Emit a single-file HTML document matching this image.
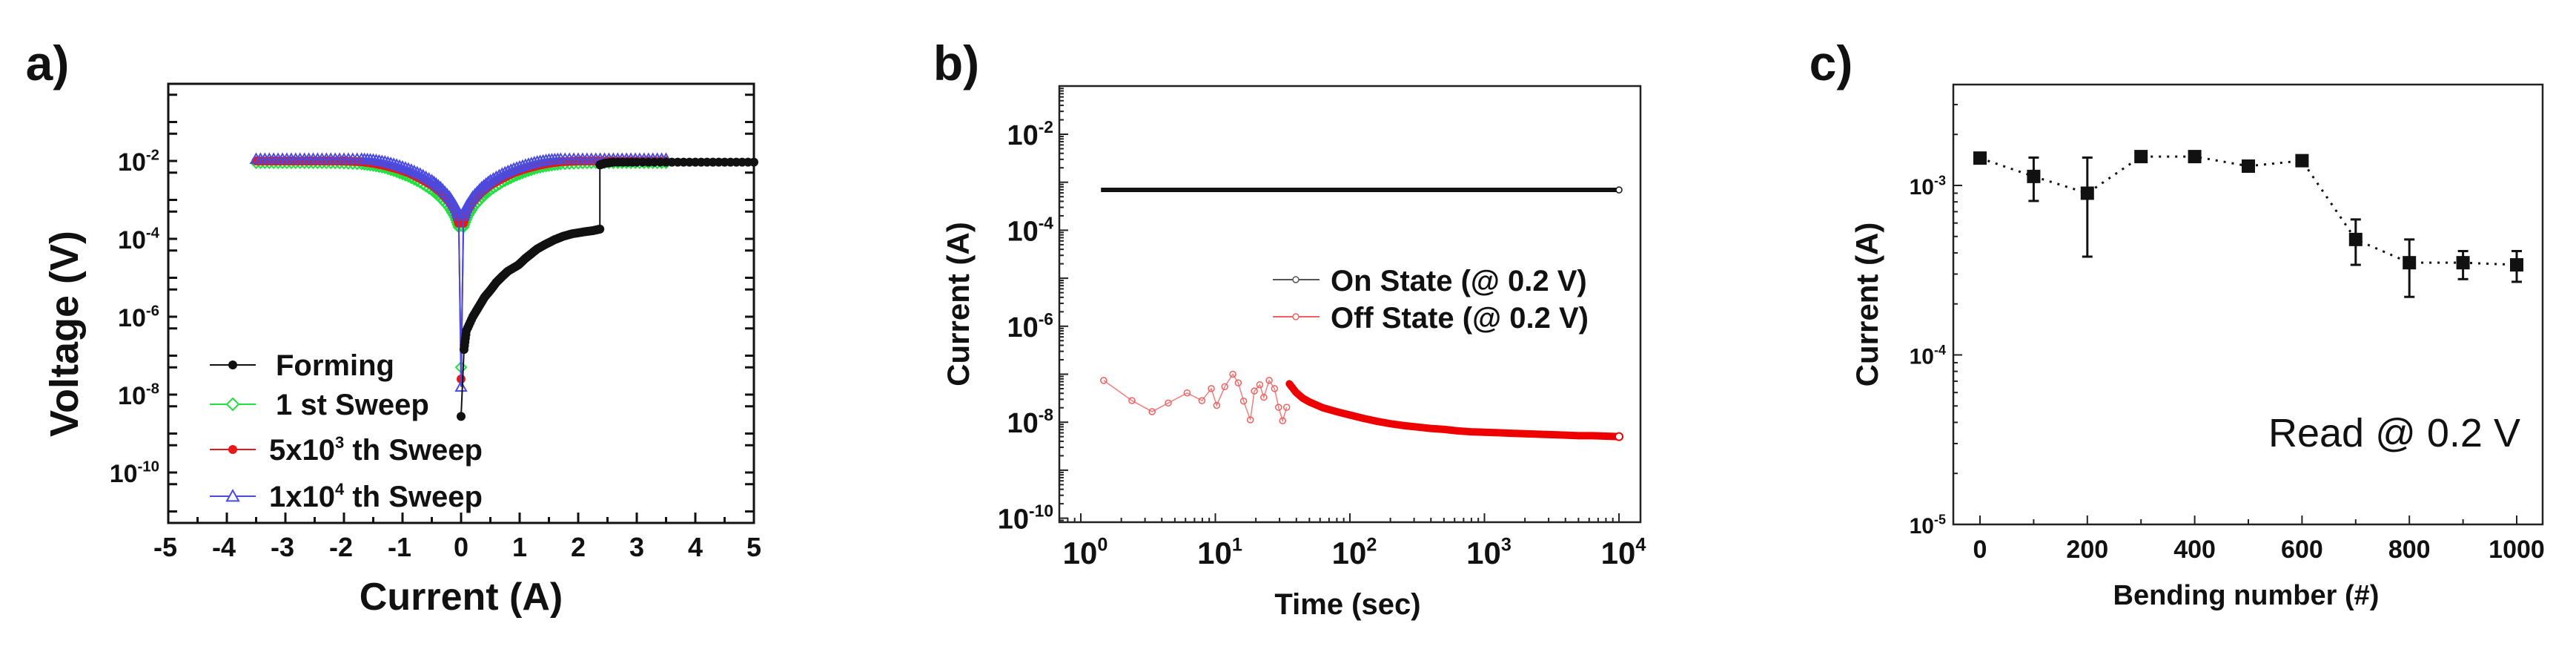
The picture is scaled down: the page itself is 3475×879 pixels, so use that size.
<!DOCTYPE html>
<html><head><meta charset="utf-8"><style>
html,body{margin:0;padding:0;background:#fff;}
svg{display:block;font-family:"Liberation Sans",Arial,sans-serif;}
</style></head><body>
<svg id="fig" width="3475" height="879" viewBox="0 0 3475 879" xmlns="http://www.w3.org/2000/svg">
<g id="pa"></g>
<g id="pb"></g>
<g id="pc"></g>
</svg>
<script>
// ---------- Panel A data ----------
const aXTicks = [-5,-4,-3,-2,-1,0,1,2,3,4,5];
const aYTickExps = [-2,-4,-6,-8,-10];
const formingX = [0,0.05,0.09,0.2,0.3,0.4,0.51,0.6,0.7,0.8,0.98,1.1,1.2,1.3,1.44,1.6,1.75,1.9,2.1,2.25,2.37,2.37,2.45,2.6,3,3.5,4,4.5,5];
const formingLog = [-8.56,-6.84,-6.36,-6.0,-5.75,-5.5,-5.3,-5.12,-4.97,-4.83,-4.67,-4.5,-4.38,-4.26,-4.14,-4.02,-3.93,-3.87,-3.82,-3.79,-3.75,-2.1,-2.06,-2.03,-2.03,-2.03,-2.03,-2.03,-2.03];
const sweepX = [-3.5,-3.2,-2.9,-2.6,-2.3,-2.0,-1.7,-1.5,-1.3,-1.1,-0.9,-0.7,-0.5,-0.35,-0.2,-0.1,-0.04,0,0.04,0.1,0.2,0.35,0.5,0.7,0.9,1.1,1.3,1.5,1.7,2.0,2.3,2.6,2.9,3.2,3.5];
const sweep1Log = [-2.05,-2.05,-2.05,-2.05,-2.05,-2.06,-2.08,-2.12,-2.18,-2.28,-2.4,-2.55,-2.75,-2.95,-3.2,-3.45,-3.7,-7.3,-3.7,-3.45,-3.2,-2.95,-2.75,-2.55,-2.4,-2.28,-2.18,-2.12,-2.08,-2.06,-2.05,-2.05,-2.05,-2.05,-2.05];
const sweep5kLog = [-2.0,-2.0,-2.0,-2.0,-2.0,-2.0,-2.02,-2.06,-2.12,-2.2,-2.3,-2.45,-2.62,-2.8,-3.05,-3.3,-3.6,-7.6,-3.6,-3.3,-3.05,-2.8,-2.62,-2.45,-2.3,-2.2,-2.12,-2.06,-2.02,-2.0,-2.0,-2.0,-2.0,-2.0,-2.0];
const sweep10kLog = [-1.95,-1.95,-1.95,-1.95,-1.95,-1.95,-1.95,-1.97,-2.02,-2.1,-2.2,-2.33,-2.5,-2.68,-2.92,-3.15,-3.4,-7.8,-3.4,-3.15,-2.92,-2.68,-2.5,-2.33,-2.2,-2.1,-2.02,-1.97,-1.95,-1.95,-1.95,-1.95,-1.95,-1.95,-1.95];
// ---------- Panel B data ----------
const bXTickExps = [0,1,2,3,4];
const bYTickExps = [-2,-4,-6,-8,-10];
const onLogT = [0.15,0.3,0.5,0.7,0.9,1.1,1.3,1.5,1.7,1.9,2.1,2.3,2.5,2.7,2.9,3.1,3.3,3.5,3.7,3.9,4.0];
const onLog = [-3.16,-3.16,-3.16,-3.16,-3.16,-3.16,-3.16,-3.16,-3.16,-3.16,-3.16,-3.16,-3.16,-3.16,-3.16,-3.16,-3.16,-3.16,-3.16,-3.16,-3.16];
const offLogT = [0.17,0.38,0.53,0.65,0.79,0.9,0.97,1.01,1.07,1.13,1.17,1.21,1.26,1.29,1.33,1.36,1.4,1.44,1.47,1.5,1.53];
const offLog = [-7.13,-7.55,-7.78,-7.6,-7.39,-7.55,-7.3,-7.65,-7.26,-7.0,-7.18,-7.56,-7.95,-7.35,-7.22,-7.48,-7.13,-7.3,-7.69,-7.97,-7.69];
const offTailLogT = [1.55,1.6,1.65,1.7,1.8,1.9,2.0,2.1,2.2,2.3,2.4,2.5,2.6,2.7,2.8,2.9,3.0,3.1,3.2,3.3,3.4,3.5,3.6,3.7,3.8,3.9,4.0];
const offTailLog = [-7.2,-7.38,-7.5,-7.58,-7.7,-7.78,-7.85,-7.92,-7.98,-8.03,-8.07,-8.1,-8.13,-8.15,-8.18,-8.2,-8.21,-8.22,-8.23,-8.24,-8.25,-8.26,-8.27,-8.28,-8.28,-8.29,-8.3];
// ---------- Panel C data ----------
const cXTicks = [0,200,400,600,800,1000];
const cYTickExps = [-3,-4,-5];
const bendN = [0,100,200,300,400,500,600,700,800,900,1000];
const bendI = [1.45e-3,1.13e-3,0.9e-3,1.48e-3,1.48e-3,1.3e-3,1.4e-3,0.48e-3,0.35e-3,0.35e-3,0.34e-3];
const bendHi = [1.5e-3,1.46e-3,1.46e-3,1.52e-3,1.52e-3,1.34e-3,1.44e-3,0.63e-3,0.48e-3,0.41e-3,0.41e-3];
const bendLo = [1.4e-3,0.81e-3,0.38e-3,1.44e-3,1.44e-3,1.26e-3,1.36e-3,0.34e-3,0.22e-3,0.28e-3,0.27e-3];

const NS="http://www.w3.org/2000/svg";
function mk(parent,tag,attrs){const e=document.createElementNS(NS,tag);for(const k in attrs)e.setAttribute(k,attrs[k]);parent.appendChild(e);return e;}
function sup(parent,x,y,base,exp,size,anchor,weight){
  const t=mk(parent,'text',{x:x,y:y,'font-size':size,'font-weight':weight||'bold','text-anchor':anchor||'middle',fill:'#111'});
  const a=document.createElementNS(NS,'tspan');a.textContent=base;t.appendChild(a);
  const b=document.createElementNS(NS,'tspan');b.setAttribute('dy',-size*0.42);b.setAttribute('font-size',size*0.6);b.textContent=exp;t.appendChild(b);
  return t;
}
function txt(parent,x,y,s,size,anchor,weight,extra){
  const t=mk(parent,'text',Object.assign({x:x,y:y,'font-size':size,'font-weight':weight||'bold','text-anchor':anchor||'middle',fill:'#111'},extra||{}));
  t.textContent=s;return t;
}
function tri(cx,cy,r){return `${cx},${cy-r} ${cx-r},${cy+r*0.8} ${cx+r},${cy+r*0.8}`;}

// ===== Panel A =====
(function(){
const g=document.getElementById('pa');
const L=227,R=1017,T=113,B=705;
const xa=v=>L+(v+5)*(R-L)/10;
const ya=l=>217+(-2-l)*52.5;
const lbl=txt(g,64,108,'a)',66,'middle');


const box=mk(g,'rect',{x:L,y:T,width:R-L,height:B-T,fill:'none',stroke:'#111','stroke-width':3});


for(let e=0;e>=-11;e--){
  for(const off of [0,0.3]){const y=ya(e-off); if(y<T+2||y>B-2)continue;
    mk(g,'line',{x1:L,y1:y,x2:L+12,y2:y,stroke:'#111','stroke-width':3});
    mk(g,'line',{x1:R,y1:y,x2:R-12,y2:y,stroke:'#111','stroke-width':3});}
}
for(let v=-5;v<=5;v+=0.5){const x=xa(v);const len=Number.isInteger(v)?14:8;
  mk(g,'line',{x1:x,y1:B,x2:x,y2:B-len,stroke:'#111','stroke-width':3});}
aXTicks.forEach(v=>{const t=txt(g,xa(v)-(v<0?4:0),750,String(v),36,'middle');
  
  });
aYTickExps.forEach(e=>{const t=sup(g,L-12,ya(e)+13,'10',String(e),34,'end');
  
  });
const xt=txt(g,(L+R)/2,822,'Current (A)',52,'middle');


const yt=txt(g,0,0,'Voltage (V)',54,'middle','bold',{transform:`translate(105,450) rotate(-90)`});


function series(xs,ls,color,kind,name){
  const sg=mk(g,'g',{});
  
  
  mk(sg,'polyline',{points:xs.map((x,i)=>xa(x)+','+ya(ls[i])).join(' '),fill:'none',stroke:color,'stroke-width':2});
  for(let i=0;i<xs.length;i++){
    const cx=xa(xs[i]),cy=ya(ls[i]);
    if(kind==='dot')mk(sg,'circle',{cx:cx,cy:cy,r:6,fill:color});
    else if(kind==='tri')mk(sg,'polygon',{points:tri(cx,cy,7),fill:'none',stroke:color,'stroke-width':2});
    else if(kind==='dia')mk(sg,'polygon',{points:`${cx},${cy-7} ${cx+7},${cy} ${cx},${cy+7} ${cx-7},${cy}`,fill:'none',stroke:color,'stroke-width':2});
    if(i<xs.length-1 && kind!=='dot' && Math.abs(ls[i+1]-ls[i])<1){
      for(let f=0.25;f<1;f+=0.25){const px=cx+(xa(xs[i+1])-cx)*f,py=cy+(ya(ls[i+1])-cy)*f;
        if(kind==='tri')mk(sg,'polygon',{points:tri(px,py,7),fill:'none',stroke:color,'stroke-width':2});
        else mk(sg,'polygon',{points:`${px},${py-7} ${px+7},${py} ${px},${py+7} ${px-7},${py}`,fill:'none',stroke:color,'stroke-width':2});}
    }
    if(kind==='dot' && i<xs.length-1 && Math.abs(ls[i+1]-ls[i])<1){
      for(let f=0.2;f<1;f+=0.2){mk(sg,'circle',{cx:cx+(xa(xs[i+1])-cx)*f,cy:cy+(ya(ls[i+1])-cy)*f,r:6,fill:color});}
    }
  }
}
series(sweepX,sweep1Log,'#22e040','dia','series-1st-sweep');
series(sweepX,sweep5kLog,'#e81818','dot','series-5e3-sweep');
series(sweepX,sweep10kLog,'#4a4ae0','tri','series-1e4-sweep');
series(formingX,formingLog,'#111','dot','series-forming');
const lg=mk(g,'g',{});


const ent=[['Forming','#111','dot',null],['1 st Sweep','#22e040','dia',null],['5x10','#e81818','dot','3'],['1x10','#4a4ae0','tri','4']];
const ys=[492,545,606,669];
ent.forEach((e,i)=>{const y=ys[i];
  const eg=mk(lg,'g',{});
  
  
  mk(eg,'line',{x1:283,y1:y,x2:345,y2:y,stroke:e[1],'stroke-width':2});
  if(e[2]==='dot')mk(eg,'circle',{cx:314,cy:y,r:6,fill:e[1]});
  if(e[2]==='dia')mk(eg,'polygon',{points:`314,${y-8} 322,${y} 314,${y+8} 306,${y}`,fill:'#fff',stroke:e[1],'stroke-width':2});
  if(e[2]==='tri')mk(eg,'polygon',{points:tri(314,y,8),fill:'#fff',stroke:e[1],'stroke-width':2});
  const t=mk(eg,'text',{x:e[3]?363:372,y:y+14,'font-size':40,'font-weight':'bold',fill:'#111'});
  const a=document.createElementNS(NS,'tspan');a.textContent=e[0];t.appendChild(a);
  if(e[3]){const b=document.createElementNS(NS,'tspan');b.setAttribute('dy',-16);b.setAttribute('font-size',22);b.textContent=e[3];t.appendChild(b);
    const c=document.createElementNS(NS,'tspan');c.setAttribute('dy',16);c.textContent=' th Sweep';t.appendChild(c);}
});
})();

// ===== Panel B =====
(function(){
const g=document.getElementById('pb');
const L=1429,R=2213,T=116,B=704;
const xb=l=>1458+l*181.5;
const yb=l=>181+(-2-l)*64.7;
const lbl=txt(g,1290,108,'b)',66,'middle');


const box=mk(g,'rect',{x:L,y:T,width:R-L,height:B-T,fill:'none',stroke:'#222','stroke-width':2.5});


for(let e=-1;e>=-11;e--){for(let m=1;m<10;m++){const yy=yb(e+Math.log10(m)); if(yy<T+2||yy>B-2)continue;
  mk(g,'line',{x1:L,y1:yy,x2:L+(m===1?12:6),y2:yy,stroke:'#222','stroke-width':2});}}
for(let e=-1;e<=4;e++){for(let m=1;m<10;m++){const x=xb(e+Math.log10(m)); if(x<L+2||x>R-2)continue;
  mk(g,'line',{x1:x,y1:B,x2:x,y2:B-(m===1?12:6),stroke:'#222','stroke-width':2});}}
bXTickExps.forEach(e=>{const t=sup(g,xb(e)+6,760,'10',String(e),42,'middle');
  
  });
bYTickExps.forEach(e=>{const t=sup(g,L-8,yb(e)+14,'10',String(e),38,'end');
  
  });
const xt=txt(g,1818,828,'Time (sec)',40,'middle');


const yt=txt(g,0,0,'Current (A)',42,'middle','bold',{transform:`translate(1307,${(T+B)/2}) rotate(-90)`});


const on=mk(g,'g',{});


mk(on,'polyline',{points:onLogT.map((t,i)=>xb(t)+','+yb(onLog[i])).join(' '),fill:'none',stroke:'#111','stroke-width':6});
mk(on,'circle',{cx:xb(onLogT[onLogT.length-1]),cy:yb(onLog[onLog.length-1]),r:4,fill:'#fff',stroke:'#111','stroke-width':1.5});
const off=mk(g,'g',{});


mk(off,'polyline',{points:offLogT.map((t,i)=>xb(t)+','+yb(offLog[i])).join(' '),fill:'none',stroke:'#f08080','stroke-width':1.5});
offLogT.forEach((t,i)=>mk(off,'circle',{cx:xb(t),cy:yb(offLog[i]),r:4,fill:'none',stroke:'#f06060','stroke-width':1.5}));
mk(off,'polyline',{points:offTailLogT.map((t,i)=>xb(t)+','+yb(offTailLog[i])).join(' '),fill:'none',stroke:'#ee0000','stroke-width':10,'stroke-linecap':'round'});
mk(off,'circle',{cx:xb(4),cy:yb(offTailLog[offTailLog.length-1]),r:5,fill:'#fff',stroke:'#e00','stroke-width':2});
const lg=mk(g,'g',{});


[['On State (@ 0.2 V)','#555',377],['Off State (@ 0.2 V)','#f06060',427]].forEach(e=>{
  const eg=mk(lg,'g',{});
  
  
  mk(eg,'line',{x1:1717,y1:e[2],x2:1780,y2:e[2],stroke:e[1],'stroke-width':2});
  mk(eg,'circle',{cx:1748,cy:e[2],r:4,fill:'#fff',stroke:e[1],'stroke-width':1.5});
  txt(eg,1795,e[2]+15,e[0],40,'start');
});
})();

// ===== Panel C =====
(function(){
const g=document.getElementById('pc');
const L=2635,R=3430,T=114,B=707;
const xc=n=>2671+n*0.724;
const yc=v=>250+(-3-Math.log10(v))*228.5;
const lbl=txt(g,2470,108,'c)',66,'middle');


const box=mk(g,'rect',{x:L,y:T,width:R-L,height:B-T,fill:'none',stroke:'#222','stroke-width':2.5});


for(let e=-5;e<=-3;e++){for(let m=1;m<10;m++){const y=yc(m*Math.pow(10,e)); if(y<T+2||y>B-1)continue;
  mk(g,'line',{x1:L,y1:y,x2:L+(m===1?12:6),y2:y,stroke:'#222','stroke-width':2});}}
for(let n=0;n<=1000;n+=100){mk(g,'line',{x1:xc(n),y1:B,x2:xc(n),y2:B-(n%200===0?12:7),stroke:'#222','stroke-width':2});}
cXTicks.forEach(n=>{const t=txt(g,xc(n),752,String(n),34,'middle');
  
  });
cYTickExps.forEach(e=>{const t=sup(g,L-10,yc(Math.pow(10,e))+12,'10',String(e),30,'end');
  
  });
const xt=txt(g,3030,815,'Bending number (#)',38,'middle');


const yt=txt(g,0,0,'Current (A)',42,'middle','bold',{transform:`translate(2533,${(T+B)/2}) rotate(-90)`});


const sg=mk(g,'g',{});


mk(sg,'polyline',{points:bendN.map((n,i)=>xc(n)+','+yc(bendI[i])).join(' '),fill:'none',stroke:'#111','stroke-width':3,'stroke-dasharray':'3 8'});
bendN.forEach((n,i)=>{
  const x=xc(n),y1=yc(bendHi[i]),y2=yc(bendLo[i]);
  const eb=mk(sg,'g',{});
  
  
  mk(eb,'line',{x1:x,y1:y1,x2:x,y2:y2,stroke:'#111','stroke-width':3});
  mk(eb,'line',{x1:x-7,y1:y1,x2:x+7,y2:y1,stroke:'#111','stroke-width':3});
  mk(eb,'line',{x1:x-7,y1:y2,x2:x+7,y2:y2,stroke:'#111','stroke-width':3});
  const p=mk(sg,'rect',{x:x-9,y:yc(bendI[i])-9,width:18,height:18,fill:'#111'});
  
  
});
const rd=txt(g,3400,602,'Read @ 0.2 V',54,'end','normal');


})();
</script>
</body></html>
